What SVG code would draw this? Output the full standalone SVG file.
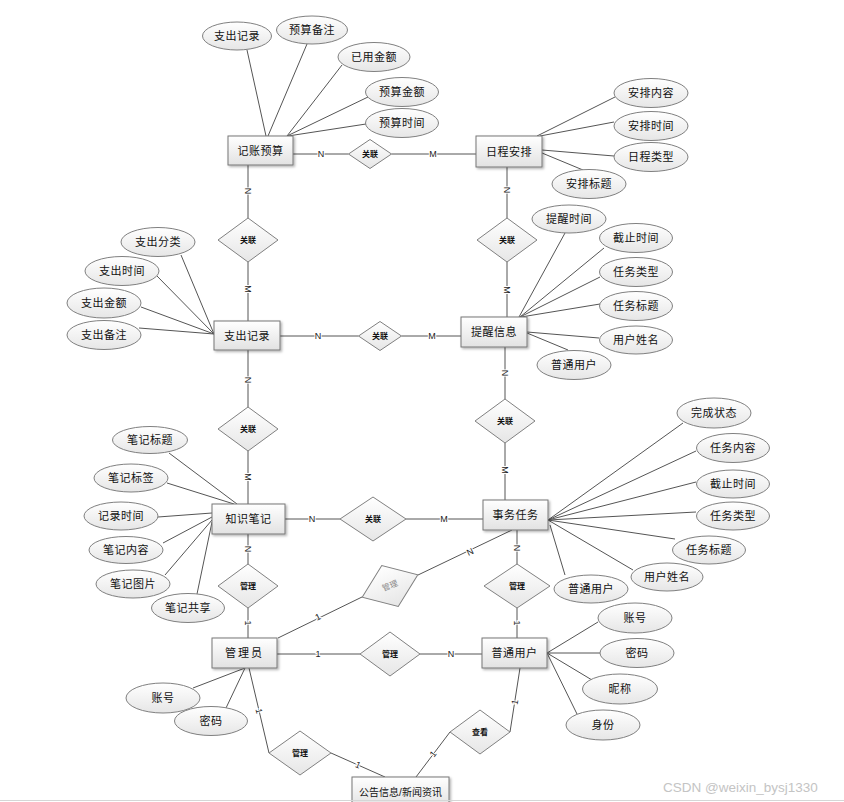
<svg xmlns="http://www.w3.org/2000/svg" width="844" height="802" viewBox="0 0 844 802">
<defs>
<linearGradient id="gE" x1="0" y1="0" x2="0" y2="1"><stop offset="0" stop-color="#ffffff"/><stop offset="1" stop-color="#e2e2e2"/></linearGradient>
<linearGradient id="gA" x1="0" y1="0" x2="0" y2="1"><stop offset="0" stop-color="#ffffff"/><stop offset="1" stop-color="#e6e6e6"/></linearGradient>
<filter id="sh" x="-10%" y="-10%" width="130%" height="140%"><feDropShadow dx="1.5" dy="1.5" stdDeviation="0.8" flood-color="#000" flood-opacity="0.3"/></filter>
</defs>
<style>
.ent rect{fill:url(#gE);stroke:#777;stroke-width:1;filter:url(#sh)}
.attr ellipse{fill:url(#gA);stroke:#808080;stroke-width:1}
.rel polygon{fill:url(#gA);stroke:#808080;stroke-width:1}
.t{font-family:"Liberation Sans","Noto Sans CJK SC",sans-serif;font-size:11px;text-anchor:middle;dominant-baseline:central;fill:#111;letter-spacing:0.5px}
.rt{font-size:8px;font-weight:bold;letter-spacing:0}
.c line{stroke:#555;stroke-width:1;fill:none}
.card{font-family:"Liberation Sans",sans-serif;font-size:9px;text-anchor:middle;dominant-baseline:central;fill:#222;stroke:#fff;stroke-width:2;paint-order:stroke}
</style>
<rect width="844" height="802" fill="#fff"/>
<g id="connectors" class="c">
<line x1="293" y1="154" x2="348.5" y2="154"/><line x1="391.5" y1="154" x2="476" y2="154"/>
<line x1="248" y1="165" x2="248" y2="218"/><line x1="248" y1="262" x2="248" y2="321"/>
<line x1="507" y1="167" x2="507" y2="218"/><line x1="507" y1="262" x2="507" y2="317"/>
<line x1="280" y1="336" x2="358.5" y2="336"/><line x1="401.5" y1="336" x2="461" y2="336"/>
<line x1="248" y1="350" x2="248" y2="407"/><line x1="248" y1="451" x2="248" y2="504"/>
<line x1="505" y1="347" x2="505" y2="399"/><line x1="505" y1="443" x2="505" y2="500"/>
<line x1="285" y1="519" x2="340" y2="519"/><line x1="406" y1="519" x2="483" y2="519"/>
<line x1="248" y1="534" x2="248" y2="564"/><line x1="248" y1="608" x2="248" y2="638"/>
<line x1="517" y1="530" x2="517" y2="564"/><line x1="517" y1="608" x2="517" y2="638"/>
<line x1="278" y1="638" x2="362" y2="597"/><line x1="418" y1="575" x2="512" y2="530"/>
<line x1="277" y1="654" x2="360" y2="654"/><line x1="420" y1="654" x2="482" y2="654"/>
<line x1="249" y1="668" x2="269" y2="753"/><line x1="331" y1="753" x2="385" y2="777"/>
<line x1="520" y1="668" x2="510" y2="732"/><line x1="450" y1="732" x2="416" y2="777"/>
<!-- attribute links -->
<line x1="247" y1="50" x2="266" y2="136"/><line x1="307" y1="44" x2="268" y2="136"/>
<line x1="342" y1="65" x2="287" y2="136"/><line x1="368" y1="97" x2="287" y2="136"/>
<line x1="366" y1="124" x2="288" y2="136"/>
<line x1="615" y1="97" x2="537" y2="136"/><line x1="614" y1="122" x2="540" y2="136"/>
<line x1="614" y1="156" x2="542" y2="150"/><line x1="583" y1="170" x2="542" y2="153"/>
<line x1="181" y1="255" x2="214" y2="334"/><line x1="157" y1="276" x2="214" y2="334"/>
<line x1="141" y1="307" x2="214" y2="334"/><line x1="139" y1="328" x2="214" y2="334"/>
<line x1="565" y1="233" x2="519" y2="317"/><line x1="604" y1="248" x2="520" y2="317"/>
<line x1="600" y1="277" x2="520" y2="317"/><line x1="600" y1="304" x2="521" y2="317"/>
<line x1="527" y1="332" x2="599" y2="338"/><line x1="527" y1="333" x2="568" y2="350"/>
<line x1="169" y1="453" x2="237" y2="504"/><line x1="167" y1="483" x2="234" y2="504"/>
<line x1="158" y1="517" x2="212" y2="513"/><line x1="163" y1="543" x2="212" y2="517"/>
<line x1="165" y1="575" x2="212" y2="520"/><line x1="197" y1="594" x2="212" y2="522"/>
<line x1="683" y1="423" x2="548" y2="520"/><line x1="696" y1="451" x2="548" y2="520"/>
<line x1="696" y1="482" x2="548" y2="520"/><line x1="696" y1="512" x2="548" y2="520"/>
<line x1="675" y1="539" x2="548" y2="520"/><line x1="633" y1="570" x2="548" y2="520"/>
<line x1="550" y1="525" x2="565" y2="575"/>
<line x1="193" y1="688" x2="245" y2="668"/><line x1="226" y1="708" x2="245" y2="668"/>
<line x1="547" y1="653" x2="598" y2="622"/><line x1="547" y1="653" x2="600" y2="653"/>
<line x1="547" y1="653" x2="592" y2="680"/><line x1="547" y1="653" x2="577" y2="714"/>
<!-- cardinality labels -->
<text class="card" x="321" y="154">N</text><text class="card" x="433" y="154">M</text>
<text class="card" transform="translate(248,191) rotate(90)">N</text><text class="card" transform="translate(248,289) rotate(90)">M</text>
<text class="card" transform="translate(507,190) rotate(90)">N</text><text class="card" transform="translate(507,290) rotate(90)">M</text>
<text class="card" x="318" y="336">N</text><text class="card" x="432" y="336">M</text>
<text class="card" transform="translate(248,380) rotate(90)">N</text><text class="card" transform="translate(248,477) rotate(90)">M</text>
<text class="card" transform="translate(505,373) rotate(90)">N</text><text class="card" transform="translate(505,470) rotate(90)">M</text>
<text class="card" x="312" y="519">N</text><text class="card" x="444" y="519">M</text>
<text class="card" transform="translate(248,549) rotate(90)">N</text><text class="card" transform="translate(248,623) rotate(90)">1</text>
<text class="card" transform="translate(517,548) rotate(90)">N</text><text class="card" transform="translate(517,623) rotate(90)">1</text>
<text class="card" transform="translate(318,617) rotate(-26)">1</text><text class="card" transform="translate(470,552) rotate(-26)">N</text>
<text class="card" x="318" y="654">1</text><text class="card" x="451" y="654">N</text>
<text class="card" transform="translate(259,711) rotate(77)">1</text><text class="card" transform="translate(358,765) rotate(24)">1</text>
<text class="card" transform="translate(515,702) rotate(-81)">1</text><text class="card" transform="translate(433,754) rotate(-53)">1</text>
</g>
<g id="rel-jz-rc" class="rel"><polygon points="348.5,154 370,139.5 391.5,154 370,168.5"/><text class="t rt" x="370" y="154">关联</text></g>
<g id="rel-jz-zc" class="rel"><polygon points="218,240 248,218 278,240 248,262"/><text class="t rt" x="248" y="240">关联</text></g>
<g id="rel-rc-tx" class="rel"><polygon points="477,240 507,218 537,240 507,262"/><text class="t rt" x="507" y="240">关联</text></g>
<g id="rel-zc-tx" class="rel"><polygon points="358.5,336 380,321.5 401.5,336 380,350.5"/><text class="t rt" x="380" y="336">关联</text></g>
<g id="rel-zc-bj" class="rel"><polygon points="218,429 248,407 278,429 248,451"/><text class="t rt" x="248" y="429">关联</text></g>
<g id="rel-tx-sw" class="rel"><polygon points="475,421 505,399 535,421 505,443"/><text class="t rt" x="505" y="421">关联</text></g>
<g id="rel-bj-sw" class="rel"><polygon points="340,519 373,497 406,519 373,541"/><text class="t rt" x="373" y="519">关联</text></g>
<g id="rel-bj-gly" class="rel"><polygon points="218,586 248,564 278,586 248,608"/><text class="t rt" x="248" y="586">管理</text></g>
<g id="rel-sw-pt" class="rel"><polygon points="484,586 517,564 550,586 517,608"/><text class="t rt" x="517" y="586">管理</text></g>
<g id="rel-gly-sw" class="rel" transform="translate(390,586) rotate(-22)"><polygon points="-30,0 0,-22 30,0 0,22"/><text class="t rt" x="0" y="0" style="fill:#888;font-weight:normal">管理</text></g>
<g id="rel-gly-pt" class="rel"><polygon points="360,654 390,632 420,654 390,676"/><text class="t rt" x="390" y="654">管理</text></g>
<g id="rel-gly-gg" class="rel"><polygon points="269,753 300,731 331,753 300,775"/><text class="t rt" x="300" y="753">管理</text></g>
<g id="rel-pt-gg" class="rel"><polygon points="450,732 480,710 510,732 480,754"/><text class="t rt" x="480" y="732">查看</text></g>
<g id="ent-jzys" class="ent"><rect x="228" y="136" width="65" height="29"/><text class="t" x="260.5" y="150.5">记账预算</text></g>
<g id="ent-rcap" class="ent"><rect x="476" y="136" width="66" height="31"/><text class="t" x="509" y="151.5">日程安排</text></g>
<g id="ent-zcjl" class="ent"><rect x="214" y="321" width="66" height="29"/><text class="t" x="247" y="335.5">支出记录</text></g>
<g id="ent-txxx" class="ent"><rect x="461" y="317" width="66" height="30"/><text class="t" x="494" y="332">提醒信息</text></g>
<g id="ent-zsbj" class="ent"><rect x="212" y="504" width="73" height="30"/><text class="t" x="248.5" y="519">知识笔记</text></g>
<g id="ent-swrw" class="ent"><rect x="483" y="500" width="65" height="30"/><text class="t" x="515.5" y="515">事务任务</text></g>
<g id="ent-gly" class="ent"><rect x="212" y="638" width="65" height="30"/><text class="t" x="244.5" y="653" style="letter-spacing:2px">管理员</text></g>
<g id="ent-ptyh" class="ent"><rect x="482" y="638" width="65" height="30"/><text class="t" x="514.5" y="653">普通用户</text></g>
<g id="ent-gg" class="ent"><rect x="352" y="777" width="97" height="30"/><text class="t" x="400.5" y="792" style="font-size:10px;letter-spacing:0">公告信息/新闻资讯</text></g>
<g id="attrs" class="attr">
<g id="a-jz1"><ellipse cx="237" cy="36" rx="34.5" ry="14"/><text class="t" x="237" y="36">支出记录</text></g>
<g id="a-jz2"><ellipse cx="312" cy="30" rx="35.5" ry="14"/><text class="t" x="312" y="30">预算备注</text></g>
<g id="a-jz3"><ellipse cx="374" cy="57" rx="36" ry="14.5"/><text class="t" x="374" y="57">已用金额</text></g>
<g id="a-jz4"><ellipse cx="402" cy="92" rx="36.5" ry="14.5"/><text class="t" x="402" y="92">预算金额</text></g>
<g id="a-jz5"><ellipse cx="402" cy="123" rx="36.5" ry="14.5"/><text class="t" x="402" y="123">预算时间</text></g>
<g id="a-rc1"><ellipse cx="651" cy="93" rx="37" ry="14.5"/><text class="t" x="651" y="93">安排内容</text></g>
<g id="a-rc2"><ellipse cx="651" cy="126" rx="37" ry="14.5"/><text class="t" x="651" y="126">安排时间</text></g>
<g id="a-rc3"><ellipse cx="651" cy="157" rx="37" ry="14.5"/><text class="t" x="651" y="157">日程类型</text></g>
<g id="a-rc4"><ellipse cx="589" cy="184" rx="37" ry="14.5"/><text class="t" x="589" y="184">安排标题</text></g>
<g id="a-zc1"><ellipse cx="158" cy="242" rx="37" ry="14.5"/><text class="t" x="158" y="242">支出分类</text></g>
<g id="a-zc2"><ellipse cx="122" cy="271" rx="37" ry="14.5"/><text class="t" x="122" y="271">支出时间</text></g>
<g id="a-zc3"><ellipse cx="104" cy="303" rx="37" ry="15"/><text class="t" x="104" y="303">支出金额</text></g>
<g id="a-zc4"><ellipse cx="104" cy="335" rx="37" ry="14.5"/><text class="t" x="104" y="335">支出备注</text></g>
<g id="a-tx1"><ellipse cx="569" cy="219" rx="37" ry="14"/><text class="t" x="569" y="219">提醒时间</text></g>
<g id="a-tx2"><ellipse cx="636" cy="238" rx="36.5" ry="14.5"/><text class="t" x="636" y="238">截止时间</text></g>
<g id="a-tx3"><ellipse cx="636" cy="272" rx="36.5" ry="14.5"/><text class="t" x="636" y="272">任务类型</text></g>
<g id="a-tx4"><ellipse cx="636" cy="306" rx="36.5" ry="14.5"/><text class="t" x="636" y="306">任务标题</text></g>
<g id="a-tx5"><ellipse cx="636" cy="340" rx="36.5" ry="14"/><text class="t" x="636" y="340">用户姓名</text></g>
<g id="a-tx6"><ellipse cx="574" cy="365" rx="37" ry="14.5"/><text class="t" x="574" y="365">普通用户</text></g>
<g id="a-bj1"><ellipse cx="150" cy="440" rx="37.5" ry="13.5"/><text class="t" x="150" y="440">笔记标题</text></g>
<g id="a-bj2"><ellipse cx="131" cy="478" rx="37" ry="14"/><text class="t" x="131" y="478">笔记标签</text></g>
<g id="a-bj3"><ellipse cx="121" cy="516" rx="37" ry="14"/><text class="t" x="121" y="516">记录时间</text></g>
<g id="a-bj4"><ellipse cx="126" cy="550" rx="37" ry="13.5"/><text class="t" x="126" y="550">笔记内容</text></g>
<g id="a-bj5"><ellipse cx="133" cy="584" rx="37" ry="14"/><text class="t" x="133" y="584">笔记图片</text></g>
<g id="a-bj6"><ellipse cx="188" cy="608" rx="36.5" ry="14.5"/><text class="t" x="188" y="608">笔记共享</text></g>
<g id="a-sw1"><ellipse cx="714" cy="413" rx="37" ry="15"/><text class="t" x="714" y="413">完成状态</text></g>
<g id="a-sw2"><ellipse cx="733" cy="448" rx="36.5" ry="14.5"/><text class="t" x="733" y="448">任务内容</text></g>
<g id="a-sw3"><ellipse cx="733" cy="484" rx="36.5" ry="14"/><text class="t" x="733" y="484">截止时间</text></g>
<g id="a-sw4"><ellipse cx="733" cy="516" rx="36.5" ry="14"/><text class="t" x="733" y="516">任务类型</text></g>
<g id="a-sw5"><ellipse cx="709" cy="550" rx="36.5" ry="14"/><text class="t" x="709" y="550">任务标题</text></g>
<g id="a-sw6"><ellipse cx="667" cy="577" rx="36" ry="14"/><text class="t" x="667" y="577">用户姓名</text></g>
<g id="a-sw7"><ellipse cx="591" cy="589" rx="37" ry="14"/><text class="t" x="591" y="589">普通用户</text></g>
<g id="a-gl1"><ellipse cx="163" cy="698" rx="37" ry="15"/><text class="t" x="163" y="698">账号</text></g>
<g id="a-gl2"><ellipse cx="211" cy="721" rx="36.5" ry="14.5"/><text class="t" x="211" y="721">密码</text></g>
<g id="a-pt1"><ellipse cx="635" cy="618" rx="37" ry="15"/><text class="t" x="635" y="618">账号</text></g>
<g id="a-pt2"><ellipse cx="637" cy="653" rx="37" ry="14.5"/><text class="t" x="637" y="653">密码</text></g>
<g id="a-pt3"><ellipse cx="620" cy="689" rx="37.5" ry="15"/><text class="t" x="620" y="689">昵称</text></g>
<g id="a-pt4"><ellipse cx="603" cy="725" rx="37" ry="15"/><text class="t" x="603" y="725">身份</text></g>
</g>
<line x1="0" y1="800.5" x2="844" y2="800.5" stroke="#d6d6d6" stroke-width="1"/>
<text x="663" y="792" style="font-family:'Liberation Sans',sans-serif;font-size:13.5px;fill:#c4c4c4">CSDN @weixin_bysj1330</text>
</svg>
